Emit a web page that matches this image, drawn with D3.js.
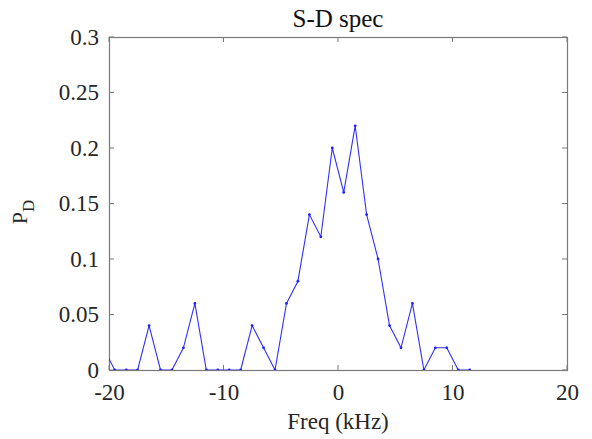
<!DOCTYPE html>
<html>
<head>
<meta charset="utf-8">
<script src="https://cdn.jsdelivr.net/npm/d3@7"></script>
<style>
  body { margin: 0; background: #fff; }
  svg { display: block; }
  svg text { font-family: "Liberation Serif", "Times New Roman", Times, "DejaVu Serif", serif; }
</style>
</head>
<body>
<svg id="chart" width="592" height="439"></svg>
<script>
// frequency bins (kHz) and P_D values
const freqs = [-20.5, -19.5, -18.5, -17.5, -16.5, -15.5, -14.5, -13.5, -12.5, -11.5,
  -10.5, -9.5, -8.5, -7.5, -6.5, -5.5, -4.5, -3.5, -2.5, -1.5,
  -0.5, 0.5, 1.5, 2.5, 3.5, 4.5, 5.5, 6.5, 7.5, 8.5, 9.5, 10.5, 11.5];
const pd = [0.02, 0, 0, 0, 0.04, 0, 0, 0.02, 0.06, 0,
  0, 0, 0, 0.04, 0.02, 0, 0.06, 0.08, 0.14, 0.12,
  0.2, 0.16, 0.22, 0.14, 0.10, 0.04, 0.02, 0.06, 0, 0.02, 0.02, 0, 0];
const xTicks = [-20, -10, 0, 10, 20];
const yTicks = [0, 0.05, 0.1, 0.15, 0.2, 0.25, 0.3];

const margin = { left: 109, right: 25, top: 37, bottom: 69 };
const width = 592 - margin.left - margin.right;
const height = 439 - margin.top - margin.bottom;
const axisColor = '#7a7a7a';
const textColor = '#262626';

const svg = d3.select('#chart');
const g = svg.append('g').attr('transform', `translate(${margin.left},${margin.top})`);

const x = d3.scaleLinear().domain([-20, 20]).range([0, width]);
const y = d3.scaleLinear().domain([0, 0.3]).range([height, 0]);

// clip line to axes like matlab does
g.append('clipPath').attr('id', 'clip')
  .append('rect').attr('width', width).attr('height', height);

const data = freqs.map((f, i) => ({ f: f, v: pd[i] }));

// tick labels
const xAxis = d3.axisBottom(x).tickValues(xTicks).tickSize(0).tickPadding(14).tickFormat(d3.format('d'));
const yAxis = d3.axisLeft(y).tickValues(yTicks).tickSize(0).tickPadding(10).tickFormat(d => d === 0 ? '0' : String(d));

const gx = g.append('g').attr('transform', `translate(0,${height})`).call(xAxis);
const gy = g.append('g').call(yAxis);
[gx, gy].forEach(a => {
  a.attr('font-family', null);
  a.select('.domain').remove();
  a.selectAll('text').attr('fill', textColor).style('font-size', '23px');
});
gx.selectAll('text').text(d => d < 0 ? '-' + Math.abs(d) : d);

// inward ticks on all four sides
const tl = 5;
const ticks = g.append('g').attr('stroke', axisColor).attr('stroke-width', 1);
xTicks.forEach(t => {
  ticks.append('line').attr('x1', x(t)).attr('x2', x(t)).attr('y1', height).attr('y2', height - tl);
  ticks.append('line').attr('x1', x(t)).attr('x2', x(t)).attr('y1', 0).attr('y2', tl);
});
yTicks.forEach(t => {
  ticks.append('line').attr('x1', 0).attr('x2', tl).attr('y1', y(t)).attr('y2', y(t));
  ticks.append('line').attr('x1', width).attr('x2', width - tl).attr('y1', y(t)).attr('y2', y(t));
});

// box
g.append('rect')
  .attr('x', 0.5).attr('y', 0.5)
  .attr('width', width).attr('height', height)
  .attr('fill', 'none').attr('stroke', axisColor).attr('stroke-width', 1.2);

// data line
const line = d3.line().x(d => x(d.f)).y(d => y(d.v));
const plot = g.append('g').attr('clip-path', 'url(#clip)');
plot.append('path')
  .datum(data)
  .attr('d', line)
  .attr('fill', 'none')
  .attr('stroke', '#3030ff')
  .attr('stroke-width', 1.1);

plot.selectAll('.dot')
  .data(data)
  .enter().append('circle')
  .attr('class', 'dot')
  .attr('cx', d => x(d.f))
  .attr('cy', d => y(d.v))
  .attr('r', 1.4)
  .attr('fill', '#2020ff');

// title
svg.append('text')
  .attr('x', margin.left + width / 2)
  .attr('y', 27)
  .attr('text-anchor', 'middle')
  .attr('fill', '#111')
  .style('font-size', '25px')
  .text('S-D spec');

// x label
svg.append('text')
  .attr('x', margin.left + width / 2)
  .attr('y', 429)
  .attr('text-anchor', 'middle')
  .attr('fill', textColor)
  .style('font-size', '23px')
  .text('Freq (kHz)');

// y label P_D
const yl = svg.append('text')
  .attr('transform', 'translate(27,212) rotate(-90)')
  .attr('text-anchor', 'middle')
  .attr('fill', textColor)
  .style('font-size', '22px');
yl.append('tspan').text('P');
yl.append('tspan').attr('dy', 7).style('font-size', '17px').text('D');
</script>
</body>
</html>
